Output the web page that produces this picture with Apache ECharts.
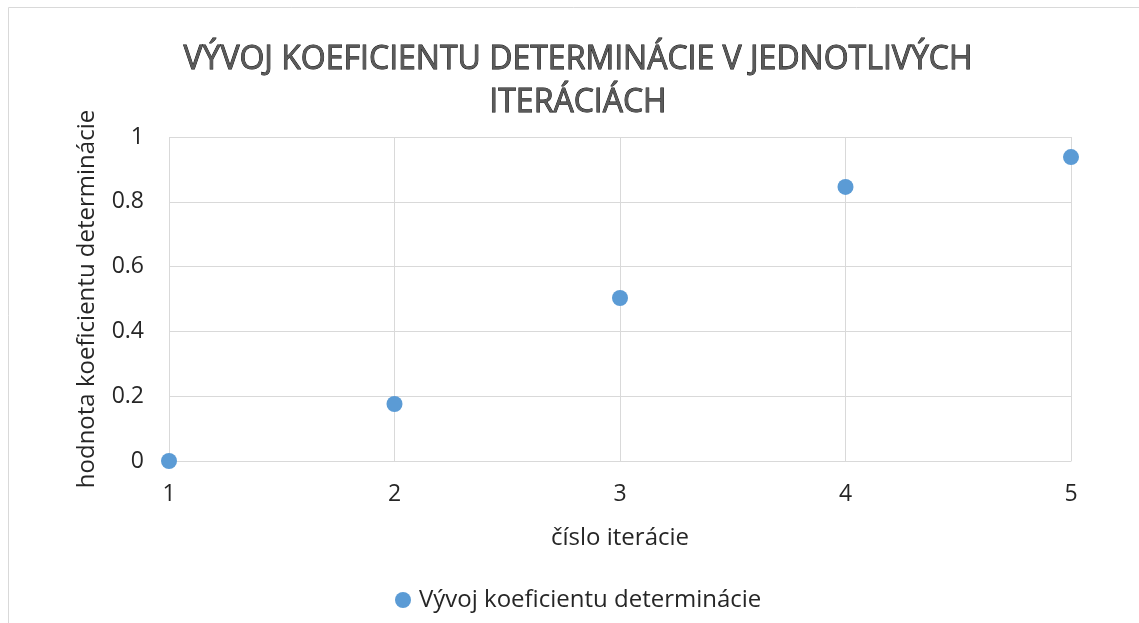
<!DOCTYPE html>
<html>
<head>
<meta charset="utf-8">
<script src="https://cdn.jsdelivr.net/npm/echarts@6/dist/echarts.min.js"></script>
<style>html,body{margin:0;padding:0;background:#fff}#c{width:1139px;height:623px}</style>
</head>
<body>
<div id="c"></div>
<script>
const iterations = [1, 2, 3, 4, 5];
const r2Values = [0, 0.176, 0.503, 0.846, 0.938];
const seriesName = 'Vývoj koeficientu determinácie';
const titleText = 'VÝVOJ KOEFICIENTU DETERMINÁCIE V JEDNOTLIVÝCH\nITERÁCIÁCH';
const xName = 'číslo iterácie';
const yName = 'hodnota koeficientu determinácie';

const chart = echarts.init(document.getElementById('c'));
const font = 'Open Sans';
chart.setOption({
  animation: false,
  graphic: [
    {type: 'line', shape: {x1: 8.5, y1: 7.5, x2: 1139, y2: 7.5}, style: {stroke: '#d9d9d9', lineWidth: 1}},
    {type: 'line', shape: {x1: 8.5, y1: 7.5, x2: 8.5, y2: 623}, style: {stroke: '#d9d9d9', lineWidth: 1}}
  ],
  title: {
    text: titleText,
    left: 573, top: 33, textAlign: 'center',
    textStyle: {
      fontFamily: font, fontSize: 32, fontWeight: 'normal', color: '#5a5a5a',
      lineHeight: 43,
      textBorderColor: '#000', textBorderWidth: 0.8
    }
  },
  legend: {
    bottom: 6, left: 390,
    itemWidth: 16, itemHeight: 16, itemGap: 10,
    icon: 'circle',
    textStyle: {fontFamily: font, fontSize: 24, color: '#262626', padding: [0, 0, 0, 3]},
    data: [seriesName]
  },
  grid: {left: 169, right: 68, top: 137, bottom: 162, containLabel: false},
  xAxis: {
    type: 'value', min: 1, max: 5, interval: 1,
    name: xName, nameLocation: 'middle', nameGap: 65,
    nameTextStyle: {fontFamily: font, fontSize: 24, color: '#262626'},
    axisLine: {show: true, lineStyle: {color: '#d9d9d9'}},
    axisTick: {show: false},
    axisLabel: {fontFamily: font, fontSize: 23, color: '#262626', margin: 22},
    splitLine: {show: true, lineStyle: {color: '#d9d9d9', width: 1}}
  },
  yAxis: {
    type: 'value', min: 0, max: 1, interval: 0.2,
    name: yName, nameLocation: 'middle', nameGap: 70, nameRotate: 90,
    nameTextStyle: {fontFamily: font, fontSize: 24, color: '#262626'},
    axisLine: {show: false},
    axisTick: {show: false},
    axisLabel: {fontFamily: font, fontSize: 23, color: '#262626', margin: 25},
    splitLine: {show: true, lineStyle: {color: '#d9d9d9', width: 1}}
  },
  series: [{
    name: seriesName,
    type: 'scatter',
    symbol: 'circle',
    symbolSize: 16,
    itemStyle: {color: '#5b9bd5', opacity: 1},
    data: iterations.map((x, i) => [x, r2Values[i]])
  }]
});
</script>
</body>
</html>
